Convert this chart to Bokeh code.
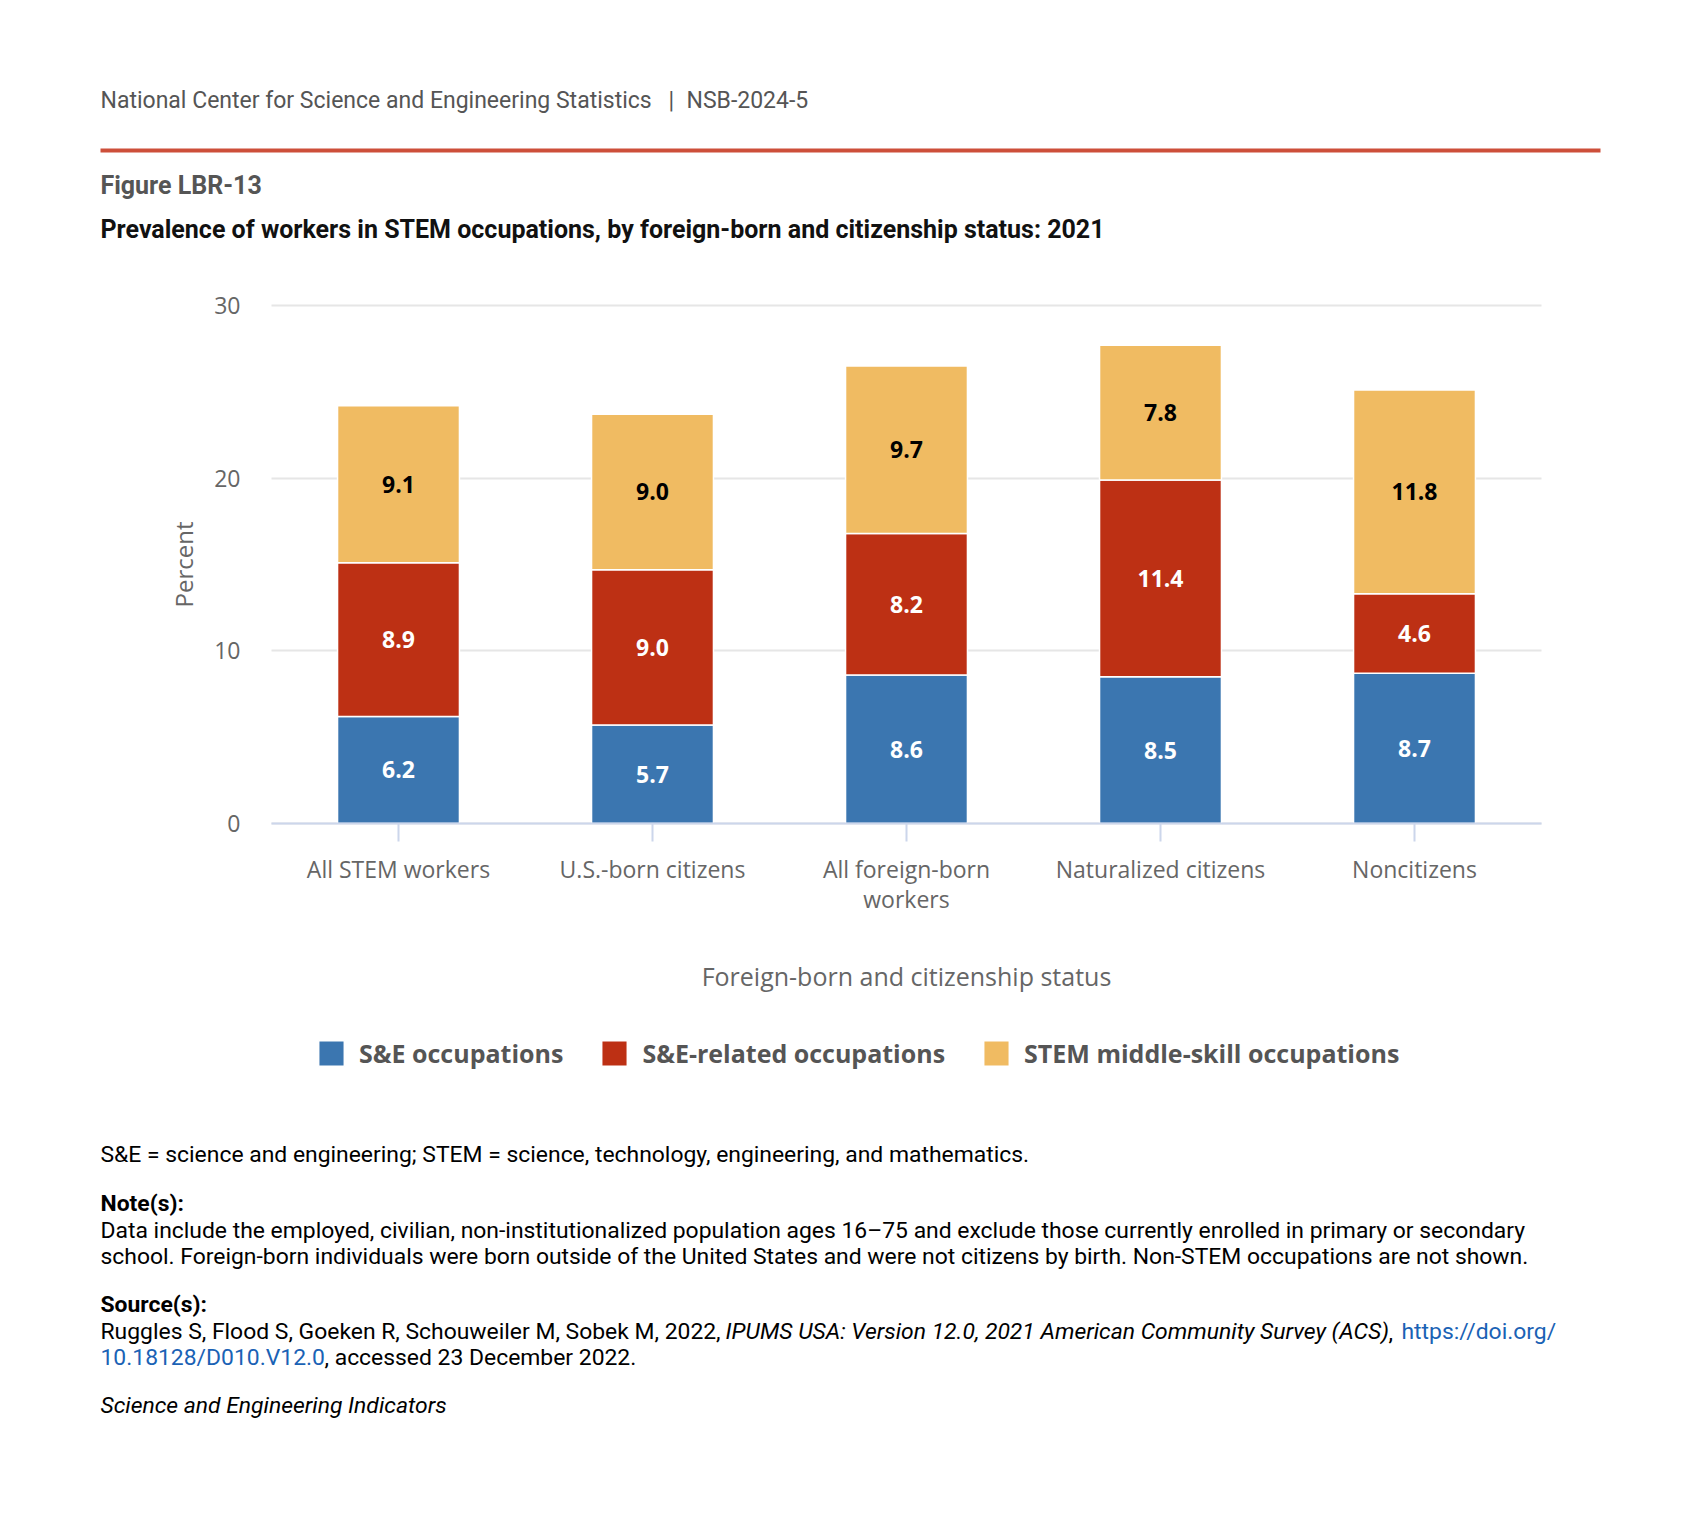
from bokeh.plotting import figure
from bokeh.models import (ColumnDataSource, Range1d, FixedTicker, LinearAxis, Grid,
                          Label, LabelSet, Legend, LegendItem, BoxAnnotation)
from bokeh.core.properties import value
from bokeh.embed import file_html
from bokeh.resources import INLINE

# ---------------- data ----------------
categories = ["All STEM workers", "U.S.-born citizens", "All foreign-born workers",
              "Naturalized citizens", "Noncitizens"]
tick_labels = ["All STEM workers", "U.S.-born citizens", "All foreign-born\nworkers",
               "Naturalized citizens", "Noncitizens"]
se = [6.2, 5.7, 8.6, 8.5, 8.7]
se_related = [8.9, 9.0, 8.2, 11.4, 4.6]
middle_skill = [9.1, 9.0, 9.7, 7.8, 11.8]
series_keys = ["se", "se_related", "middle_skill"]
series_names = ["S&E occupations", "S&E-related occupations", "STEM middle-skill occupations"]
series_colors = ["#3b76b0", "#bd3014", "#f0bb62"]
label_colors = ["white", "white", "black"]
y_ticks = [0, 10, 20, 30]

# ---------------- layout constants (page pixels) ----------------
W, H = 1683, 1440
FL, FR, FT, FB = 271, 1541, 305, 823      # plot area
n = len(categories)
CW = (FR - FL) / n
PXU = (FB - FT) / (y_ticks[-1] - y_ticks[0])

p = figure(width=W, height=H,
           x_range=Range1d((0 - FL) / CW - 0.5, (W - FL) / CW - 0.5),
           y_range=Range1d((FB - H) / PXU, FB / PXU),
           x_axis_type=None, y_axis_type=None,
           output_backend="svg", toolbar_location=None,
           min_border_left=0, min_border_right=0, min_border_top=0, min_border_bottom=0)
p.title.visible = False
p.outline_line_color = None
p.background_fill_color = "white"
p.border_fill_color = "white"
p.extra_x_ranges = {"px": Range1d(0, W)}
p.extra_y_ranges = {"py": Range1d(H, 0)}

# ---------------- grid ----------------
grid_kw = dict(dimension=1, ticker=FixedTicker(ticks=y_ticks),
               grid_line_color="#e6e6e6", grid_line_width=2)
if "cross_bounds" in Grid.properties():
    grid_kw["cross_bounds"] = (-0.5, n - 0.5)
    p.add_layout(Grid(**grid_kw))
else:
    p.segment(x0=[-0.5] * len(y_ticks), x1=[n - 0.5] * len(y_ticks),
              y0=y_ticks, y1=y_ticks, line_color="#e6e6e6", line_width=2,
              level="underlay")

# ---------------- bars ----------------
src = ColumnDataSource(dict(x=list(range(n)), se=se, se_related=se_related,
                            middle_skill=middle_skill))
renderers = p.vbar_stack(series_keys, x="x", width=0.48, source=src,
                         fill_color=series_colors, line_color="white", line_width=1.5)

vals = [se, se_related, middle_skill]
lx, ly, lt, lc = [], [], [], []
for i in range(n):
    base = 0.0
    for s in range(3):
        v = vals[s][i]
        lx.append(i)
        ly.append(base + v / 2)
        lt.append(f"{v:.1f}")
        lc.append(label_colors[s])
        base += v
lsrc = ColumnDataSource(dict(x=lx, y=ly, t=lt, c=lc))
p.add_layout(LabelSet(x="x", y="y", text="t", source=lsrc, text_color="c",
                      text_font=value("Open Sans"), text_font_style="bold",
                      text_font_size="23px", text_align="center",
                      text_baseline="middle"))

# ---------------- axes ----------------
xaxis = LinearAxis(fixed_location=0, bounds=(-0.5, n - 0.5),
                   ticker=FixedTicker(ticks=list(range(n))),
                   major_label_overrides={i: t for i, t in enumerate(tick_labels)})
xaxis.axis_line_color = "#ccd6eb"
xaxis.axis_line_width = 2
xaxis.major_tick_line_color = "#ccd6eb"
xaxis.major_tick_line_width = 2
xaxis.major_tick_out = 18
xaxis.major_tick_in = 0
xaxis.minor_tick_line_color = None
xaxis.major_label_standoff = 11
xaxis.major_label_text_font = "Open Sans"
xaxis.major_label_text_font_size = "23px"
xaxis.major_label_text_color = "#666666"
xaxis.major_label_text_line_height = 0.96
xaxis.axis_label = "Foreign-born and citizenship status"
xaxis.axis_label_text_font = "Open Sans"
xaxis.axis_label_text_font_size = "25px"
xaxis.axis_label_text_font_style = "normal"
xaxis.axis_label_text_color = "#666666"
xaxis.axis_label_standoff = 41
p.add_layout(xaxis, "below")

yaxis = LinearAxis(fixed_location=-0.5, bounds=(y_ticks[0], y_ticks[-1]),
                   ticker=FixedTicker(ticks=y_ticks))
yaxis.axis_line_color = None
yaxis.major_tick_line_color = None
yaxis.major_tick_out = 0
yaxis.major_tick_in = 0
yaxis.minor_tick_line_color = None
yaxis.major_label_standoff = 31
yaxis.major_label_text_font = "Open Sans"
yaxis.major_label_text_font_size = "23px"
yaxis.major_label_text_color = "#666666"
yaxis.axis_label = "Percent"
yaxis.axis_label_text_font = "Open Sans"
yaxis.axis_label_text_font_size = "24px"
yaxis.axis_label_text_font_style = "normal"
yaxis.axis_label_text_color = "#666666"
yaxis.axis_label_standoff = 11
p.add_layout(yaxis, "left")

# ---------------- legend ----------------
legend = Legend(items=[LegendItem(label=nm, renderers=[r])
                       for nm, r in zip(series_names, renderers)],
                orientation="horizontal", location=(315, H - 1070),
                glyph_width=32, glyph_height=32, label_standoff=12, spacing=35,
                label_text_font="Open Sans", label_text_font_style="bold",
                label_text_font_size="25px", label_text_color="#555555",
                border_line_color=None, background_fill_alpha=0,
                padding=0, margin=0)
p.add_layout(legend)


# ---------------- header / footer texts ----------------
def txt(x, y, t, size="22.9px", style="normal", color="#000000", font="Roboto"):
    p.add_layout(Label(x=x, y=y, x_range_name="px", y_range_name="py",
                       text=t, text_font=font, text_font_size=size,
                       text_font_style=style, text_color=color,
                       text_baseline="alphabetic", text_align="left"))


txt(100, 100, "National Center for Science and Engineering Statistics", size="23px",
    color="#555555")
txt(668, 100, "|", size="23px", color="#555555")
txt(686, 100, "NSB-2024-5", size="23px", color="#555555")
p.add_layout(BoxAnnotation(left=100, right=1600, top=148, bottom=152,
                           x_range_name="px", y_range_name="py",
                           fill_color="#cd4f3a", fill_alpha=1, line_color=None))
txt(100, 185, "Figure LBR-13", size="25px", style="bold", color="#555555")
txt(100, 229, "Prevalence of workers in STEM occupations, by foreign-born and citizenship status: 2021",
    size="25px", style="bold", color="#111111")

txt(100, 1154, "S&E = science and engineering; STEM = science, technology, engineering, and mathematics.")
txt(100, 1203, "Note(s):", style="bold")
txt(100, 1230, "Data include the employed, civilian, non-institutionalized population ages 16\u201375 and exclude those currently enrolled in primary or secondary")
txt(100, 1256, "school. Foreign-born individuals were born outside of the United States and were not citizens by birth. Non-STEM occupations are not shown.")
txt(100, 1304, "Source(s):", style="bold")
txt(100, 1331, "Ruggles S, Flood S, Goeken R, Schouweiler M, Sobek M, 2022,")
txt(725, 1331, "IPUMS USA: Version 12.0, 2021 American Community Survey (ACS)", style="italic")
txt(1388, 1331, ",")
txt(1401, 1331, "https://doi.org/", color="#1a62b5")
txt(100, 1357, "10.18128/D010.V12.0", color="#1a62b5")
txt(324, 1357, ", accessed 23 December 2022.")
txt(100, 1405, "Science and Engineering Indicators", style="italic")

open("out.html", "w").write(file_html(p, INLINE))
